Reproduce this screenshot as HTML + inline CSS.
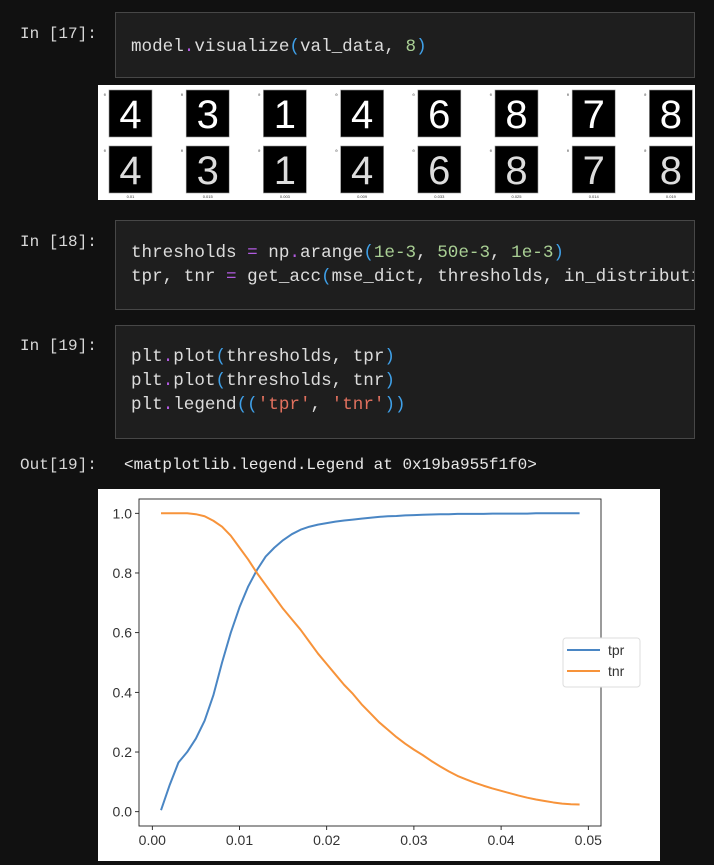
<!DOCTYPE html>
<html><head><meta charset="utf-8"><style>
body{margin:0;background:#111;width:714px;height:865px;overflow:hidden;position:relative;font-family:"Liberation Mono",monospace;}
.p{position:absolute;left:20px;color:#d8d8d8;font-size:16px;}
.cell{position:absolute;left:115px;width:578px;background:#1e1e1e;border:1px solid #474747;overflow:hidden;}
.code{position:absolute;left:15px;font-size:17.6px;line-height:24px;color:#dcdcdc;white-space:pre;}
.d{color:#b15ae0}.b{color:#3fa0e8}.n{color:#a9cf94}.s{color:#e0705e}
</style></head><body>
<div class="p" style="top:25px">In [17]:</div>
<div class="cell" style="top:12px;height:64px"><div class="code" style="top:22px">model<span class="d">.</span>visualize<span class="b">(</span>val_data, <span class="n">8</span><span class="b">)</span></div></div>
<svg style="position:absolute;left:98px;top:85px" width="597" height="115">
<rect width="597" height="115" fill="#fff"/>
<g id="dg"></g>
</svg>
<div class="p" style="top:233px">In [18]:</div>
<div class="cell" style="top:220px;height:88px"><div class="code" style="top:20px">thresholds <span class="d">=</span> np<span class="d">.</span>arange<span class="b">(</span><span class="n">1e-3</span>, <span class="n">50e-3</span>, <span class="n">1e-3</span><span class="b">)</span>
tpr, tnr <span class="d">=</span> get_acc<span class="b">(</span>mse_dict, thresholds, in_distribution</div></div>
<div class="p" style="top:337px">In [19]:</div>
<div class="cell" style="top:325px;height:112px"><div class="code" style="top:19px">plt<span class="d">.</span>plot<span class="b">(</span>thresholds, tpr<span class="b">)</span>
plt<span class="d">.</span>plot<span class="b">(</span>thresholds, tnr<span class="b">)</span>
plt<span class="d">.</span>legend<span class="b">((</span><span class="s">'tpr'</span>, <span class="s">'tnr'</span><span class="b">))</span></div></div>
<div class="p" style="top:456px">Out[19]:</div>
<div class="p" style="top:456px;left:124px;color:#e8e8e8">&lt;matplotlib.legend.Legend at 0x19ba955f1f0&gt;</div>
<svg id="chart" style="position:absolute;left:98px;top:489px" width="562" height="372" font-family="Liberation Sans, sans-serif">
<rect width="562" height="372" fill="#fff"/>
<g id="cg"></g>
</svg>
<script>
const digits=['4','3','1','4','6','8','7','8'];
const digitLabels=['0.01','0.015','0.003','0.009','0.033','0.025','0.014','0.019'];
const thresholds=[];for(let i=1;i<=49;i++)thresholds.push(i/1000);
const tpr=[0.005,0.09,0.165,0.2,0.245,0.305,0.39,0.5,0.6,0.685,0.755,0.81,0.855,0.885,0.91,0.93,0.945,0.955,0.962,0.967,0.972,0.976,0.979,0.982,0.985,0.988,0.99,0.991,0.993,0.994,0.995,0.996,0.997,0.997,0.998,0.998,0.998,0.998,0.999,0.999,0.999,0.999,0.999,1,1,1,1,1,1];
const tnr=[1,1,1,1,0.997,0.99,0.975,0.955,0.925,0.885,0.845,0.8,0.76,0.72,0.68,0.645,0.61,0.57,0.53,0.495,0.46,0.425,0.395,0.36,0.33,0.3,0.275,0.25,0.228,0.208,0.19,0.17,0.152,0.135,0.12,0.108,0.097,0.087,0.078,0.07,0.062,0.054,0.047,0.041,0.036,0.031,0.027,0.025,0.024];
const xTicks=[0,0.01,0.02,0.03,0.04,0.05];
const xTickLabels=['0.00','0.01','0.02','0.03','0.04','0.05'];
const yTicks=[0,0.2,0.4,0.6,0.8,1.0];
const yTickLabels=['0.0','0.2','0.4','0.6','0.8','1.0'];
const NS='http://www.w3.org/2000/svg';
function mk(p,t,a){const e=document.createElementNS(NS,t);for(const k in a)e.setAttribute(k,a[k]);p.appendChild(e);return e;}
const dg=document.getElementById('dg');
digits.forEach((d,i)=>{
  const x=11+i*77.2;
  for(let r=0;r<2;r++){
    const y=r?61:5;
    const sq=mk(dg,'rect',{x:x,y:y,width:43,height:47,fill:'#000',stroke:'#999','stroke-width':0.6});
    
    
    const t=mk(dg,'text',{x:x+21.5,y:y+38,'text-anchor':'middle','font-size':'40','font-family':'Liberation Sans, sans-serif',fill:r?'#ddd':'#fff'});
    t.textContent=d;
    
    
    mk(dg,'text',{x:x-3,y:y+6,'text-anchor':'end','font-size':'4',fill:'#444'}).textContent='0';
  }
  const l=mk(dg,'text',{x:x+21.5,y:113,'text-anchor':'middle','font-size':'4',fill:'#333','font-family':'Liberation Sans, sans-serif'});
  l.textContent=digitLabels[i];
  
  
});
const g=document.getElementById('cg');
const ox=98,oy=489;
const X=v=>152.3+v*8720-ox, Y=v=>811.7-v*298.4-oy;
const L=139-ox,R=601-ox,T=499-oy,B=826-oy;
xTicks.forEach((v,i)=>{
  mk(g,'line',{x1:X(v),x2:X(v),y1:B,y2:B+4,stroke:'#000','stroke-width':0.8});
  const t=mk(g,'text',{x:X(v),y:B+19,'text-anchor':'middle','font-size':'14',fill:'#333'});
  t.textContent=xTickLabels[i];
  
  
});
yTicks.forEach((v,i)=>{
  mk(g,'line',{x1:L-4,x2:L,y1:Y(v),y2:Y(v),stroke:'#000','stroke-width':0.8});
  const t=mk(g,'text',{x:L-7,y:Y(v)+5,'text-anchor':'end','font-size':'14',fill:'#333'});
  t.textContent=yTickLabels[i];
  
  
});
function line(vals,col,name){
  const d=vals.map((v,i)=>(i?'L':'M')+X(thresholds[i]).toFixed(2)+','+Y(v).toFixed(2)).join('');
  const p=mk(g,'path',{d:d,fill:'none',stroke:col,'stroke-width':2,'stroke-linejoin':'round'});
  
  
}
line(tpr,'#4a86c4','tpr-line');
line(tnr,'#f7933a','tnr-line');
const ax=mk(g,'rect',{x:L,y:T,width:R-L,height:B-T,fill:'none',stroke:'#222','stroke-width':0.9});


const lg=mk(g,'rect',{x:563-ox,y:638-oy,width:77,height:49,rx:3,fill:'#fff',stroke:'#ddd'});


[['tpr','#4a86c4',650],['tnr','#f7933a',671]].forEach(([n,c,y])=>{
  mk(g,'line',{x1:567-ox,x2:600-ox,y1:y-oy,y2:y-oy,stroke:c,'stroke-width':2});
  const t=mk(g,'text',{x:608-ox,y:y-oy+5,'font-size':'14',fill:'#333'});
  t.textContent=n;
  
  
});
</script>
</body></html>
